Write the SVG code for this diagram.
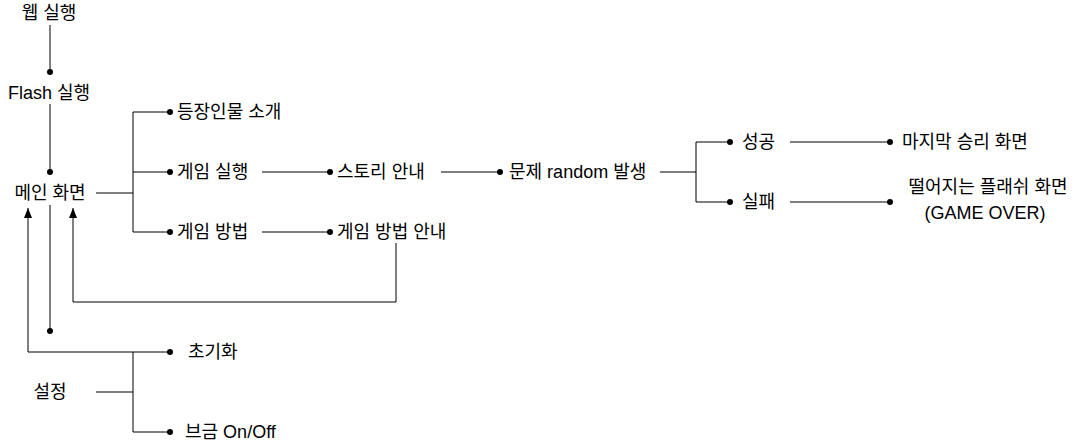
<svg xmlns="http://www.w3.org/2000/svg" width="1081" height="443" viewBox="0 0 1081 443">
<defs>
<style>
text{font-family:"Liberation Sans","Noto Sans CJK KR",sans-serif;font-size:18px;fill:#000;dominant-baseline:central}
.c{text-anchor:middle}
.ln{fill:none;stroke:#000;stroke-width:1}
.d{fill:#000}
</style>
<marker id="arr" viewBox="0 0 10 8" refX="10" refY="4" markerWidth="10" markerHeight="8" orient="auto" markerUnits="userSpaceOnUse">
<path d="M0,0 L10,4 L0,8 Z" fill="#000"/>
</marker>
</defs>
<rect width="1081" height="443" fill="#fff"/>
<g id="connectors">
<path class="ln" d="M50,25 V72"/>
<circle class="d" cx="50" cy="72" r="3"/>
<path class="ln" d="M50,104 V172"/>
<circle class="d" cx="50" cy="172" r="3"/>
<path class="ln" d="M96,193 H133 M133,112 V232 M133,112 H170 M133,172 H170 M133,232 H170"/>
<circle class="d" cx="170" cy="112" r="3"/>
<circle class="d" cx="170" cy="172" r="3"/>
<circle class="d" cx="170" cy="232" r="3"/>
<path class="ln" d="M262,172 H330"/>
<circle class="d" cx="330" cy="172" r="3"/>
<path class="ln" d="M441,172 H500"/>
<circle class="d" cx="500" cy="172" r="3"/>
<path class="ln" d="M660,172 H696 M696,142 V202 M696,142 H730 M696,202 H730"/>
<circle class="d" cx="730" cy="142" r="3"/>
<circle class="d" cx="730" cy="202" r="3"/>
<path class="ln" d="M790,142 H890 M790,202 H890"/>
<circle class="d" cx="890" cy="142" r="3"/>
<circle class="d" cx="890" cy="202" r="3"/>
<path class="ln" d="M262,232 H330"/>
<circle class="d" cx="330" cy="232" r="3"/>
<path class="ln" d="M396,243 V302 H73 V208" marker-end="url(#arr)"/>
<path class="ln" d="M50,205 V331"/>
<circle class="d" cx="50" cy="331" r="3"/>
<path class="ln" d="M170,352 H28 V208" marker-end="url(#arr)"/>
<circle class="d" cx="170" cy="352" r="3"/>
<path class="ln" d="M96,392 H133 M133,352 V432 H170"/>
<circle class="d" cx="170" cy="432" r="3"/>
</g>
<g id="web"><text class="c" x="49" y="13">웹 실행</text></g>
<g id="flash"><text class="c" x="49" y="93">Flash 실행</text></g>
<g id="main"><text class="c" x="50" y="193">메인 화면</text></g>
<g id="intro"><text x="177" y="112">등장인물 소개</text></g>
<g id="gamerun"><text x="177" y="172">게임 실행</text></g>
<g id="story"><text x="337" y="172">스토리 안내</text></g>
<g id="problem"><text x="509" y="172">문제 random 발생</text></g>
<g id="success"><text x="742" y="142">성공</text></g>
<g id="fail"><text x="742" y="202">실패</text></g>
<g id="win"><text x="902" y="142">마지막 승리 화면</text></g>
<g id="gameover"><text class="c" x="988" y="187">떨어지는 플래쉬 화면</text><text class="c" x="985" y="213">(GAME OVER)</text></g>
<g id="howto"><text x="177" y="232">게임 방법</text></g>
<g id="howtoguide"><text x="337" y="232">게임 방법 안내</text></g>
<g id="settings"><text class="c" x="50" y="392">설정</text></g>
<g id="reset"><text x="188" y="352">초기화</text></g>
<g id="bgm"><text x="185" y="432">브금 On/Off</text></g>
</svg>
